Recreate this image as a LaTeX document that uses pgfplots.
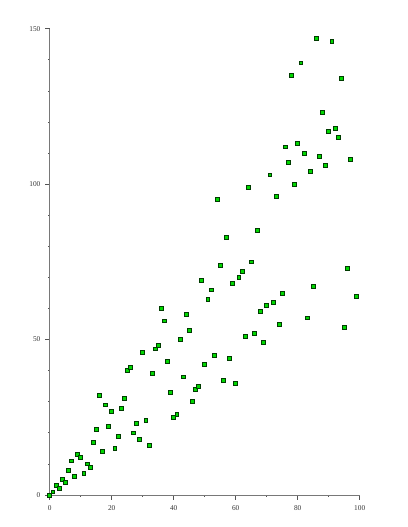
\documentclass[border=0pt]{standalone}
\usepackage{pgfplots}
\pgfplotsset{compat=1.18}
\usepackage{fontspec}
\setmainfont{Liberation Serif}
\definecolor{ptfill}{RGB}{0,215,0}
\definecolor{ptedge}{RGB}{0,60,0}
\definecolor{axgray}{RGB}{120,120,120}
\begin{document}
\begin{tikzpicture}
\path (-37.3pt,-24pt) rectangle (268pt,371.25pt);
\begin{axis}[
    at={(0,0)}, anchor=origin,
    scale only axis,
    width=232.5pt, height=349.7pt,
    xmin=0, xmax=100, ymin=0, ymax=150,
    axis lines*=left,
    axis line style={axgray, line width=0.6pt},
    xtick={0,20,...,100}, ytick={0,50,100,150},
    minor xtick={10,30,50,70,90},
    minor ytick={10,20,30,40,60,70,80,90,110,120,130,140},
    tick align=outside,
    major tick length=3.5pt, minor tick length=1.2pt,
    tick style={axgray!70!black, line width=0.5pt},
    ticklabel style={font=\fontsize{5.5}{6}\selectfont, text=black!80},
    /pgf/number format/assume math mode=true,
    xticklabel style={yshift=-1pt},
    clip=false,
]
\addplot[only marks, mark=square*, mark size=1.45pt,
    mark options={fill=ptfill, draw=ptedge, line width=0.55pt}]
coordinates {
(0,0) (1,1) (2,3) (3,2) (4,5) (5,4) (6,8) (7,11) (8,6) (9,13)
(10,12) (11,7) (12,10) (13,9) (14,17) (15,21) (16,32) (17,14) (18,29) (19,22)
(20,27) (21,15) (22,19) (23,28) (24,31) (25,40) (26,41) (27,20) (28,23) (29,18)
(30,46) (31,24) (32,16) (33,39) (34,47) (35,48) (36,60) (37,56) (38,43) (39,33)
(40,25) (41,26) (42,50) (43,38) (44,58) (45,53) (46,30) (47,34) (48,35) (49,69)
(50,42) (51,63) (52,66) (53,45) (54,95) (55,74) (56,37) (57,83) (58,44) (59,68)
(60,36) (61,70) (62,72) (63,51) (64,99) (65,75) (66,52) (67,85) (68,59) (69,49)
(70,61) (71,103) (72,62) (73,96) (74,55) (75,65) (76,112) (77,107) (78,135) (79,100)
(80,113) (81,139) (82,110) (83,57) (84,104) (85,67) (86,147) (87,109) (88,123) (89,106)
(90,117) (91,146) (92,118) (93,115) (94,134) (95,54) (96,73) (97,108) (99,64)
};
\end{axis}
\end{tikzpicture}
\end{document}
